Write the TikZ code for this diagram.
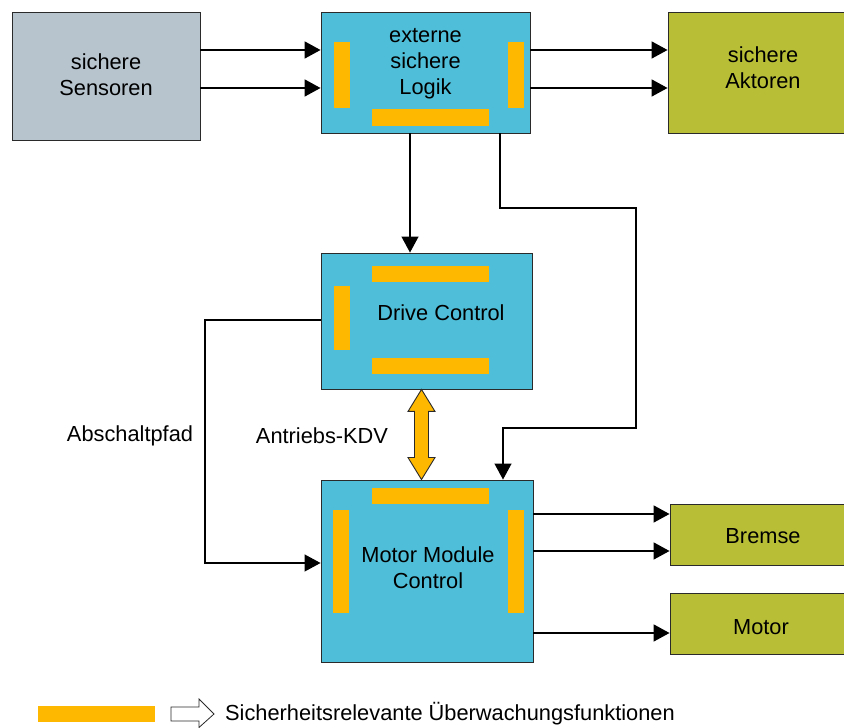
\documentclass[tikz,border=0pt]{standalone}
\usepackage{fontspec}
\setmainfont{Liberation Sans}
\usetikzlibrary{arrows.meta,calc}
\definecolor{unitcyan}{HTML}{4FBED8}
\definecolor{sensgray}{HTML}{B7C4CE}
\definecolor{actolive}{HTML}{B8BF37}
\definecolor{monorange}{HTML}{FFB800}
\definecolor{edgegray}{HTML}{2A2A2A}
\begin{document}
\begin{tikzpicture}[x=1pt,y=1pt,
  blk/.style={draw=edgegray, line width=0.9pt, inner sep=0pt, minimum width=#1},
  unit/.style={blk=#1, fill=unitcyan},
  sensor/.style={blk=#1, fill=sensgray},
  actor/.style={blk=#1, fill=actolive},
  txt/.style={inner sep=0pt, align=center, font=\fontsize{21.8}{26}\selectfont},
  bar/.style={fill=monorange},
  sig/.style={line width=1.7pt, -{Triangle[length=16pt,width=17pt]}},
  link/.style={line width=1.2pt, -{Triangle[length=16pt,width=17pt]}},
  kdv/.style={draw=edgegray, line width=0.9pt, fill=monorange, line join=miter}
]
\clip (0,0) rectangle (844,728);
\fill[white] (0,0) rectangle (844,728);

% blocks
\node[sensor=188pt, minimum height=128pt] (sens) at (106,652) {};
\node[unit=209pt, minimum height=121pt] (logik) at (425.5,655.5) {};
\node[actor=190pt, minimum height=121pt] (akt) at (763,655.5) {};
\node[unit=211pt, minimum height=136pt] (drive) at (426.5,407) {};
\node[unit=212pt, minimum height=182pt] (mmc) at (427,157) {};
\node[actor=186pt, minimum height=61pt] (brake) at (763,193.5) {};
\node[actor=186pt, minimum height=61pt] (motor) at (763,104.5) {};

% monitoring bars
\fill[bar] (334,686) rectangle (350,620);
\fill[bar] (508,686) rectangle (524,620);
\fill[bar] (372,619) rectangle (489,602);
\fill[bar] (372,462) rectangle (489,446);
\fill[bar] (334,442) rectangle (350,378);
\fill[bar] (372,370) rectangle (489,354);
\fill[bar] (372,240) rectangle (489,224);
\fill[bar] (333,218) rectangle (349,115);
\fill[bar] (508,218) rectangle (524,115);

% block labels
\node[txt] (senstxt) at (106,653) {sichere\\Sensoren};
\node[txt] (logiktxt) at (425.5,664) {externe\\sichere\\Logik};
\node[txt] (akttxt) at (763,660) {sichere\\Aktoren};
\node[txt] (drivetxt) at (441,415) {Drive Control};
\node[txt] (mmctxt) at (428,160) {Motor Module\\Control};
\node[txt] (braketxt) at (763,192) {Bremse};
\node[txt] (motortxt) at (761,101) {Motor};
\node[txt] (offlbl) at (130,292) {Abschaltpfad};
\node[txt] (kdvlbl) at (322,292) {Antriebs-KDV};

% signal arrows
\draw[sig] (sens.east |- 0,678) -- (logik.west |- 0,678);
\draw[sig] (sens.east |- 0,640) -- (logik.west |- 0,640);
\draw[sig] (logik.east |- 0,678) -- (akt.west |- 0,678);
\draw[sig] (logik.east |- 0,640) -- (akt.west |- 0,640);
\draw[sig] (mmc.east |- 0,214) -- (brake.west |- 0,214);
\draw[sig] (mmc.east |- 0,177) -- (brake.west |- 0,177);
\draw[sig] (mmc.east |- 0,95) -- (motor.west |- 0,95);

% control paths
\draw[link] (logik.south -| 410,0) -- (drive.north -| 410,0);
\coordinate (turn) at (636,520);
\draw[link] (logik.south -| 500,0) |- (turn) |- (503,300) -- (mmc.north -| 503,0);
\coordinate (offturn) at (205,408);
\draw[link] (drive.west |- offturn) -- (offturn) |- (mmc.west |- 0,165);

% drive communication (double arrow)
\coordinate (kt) at (drive.south -| 421.5,0);
\coordinate (kb) at (mmc.north -| 421.5,0);
\draw[kdv] (kt) -- ++(13.5,-22) -- ++(-6.5,0) -- ($(kb)+(7,22)$) -- ++(6.5,0)
  -- (kb) -- ++(-13.5,22) -- ++(6.5,0) -- ($(kt)+(-7,-22)$) -- ++(-6.5,0) -- cycle;

% legend
\fill[bar] (38,22) rectangle (155,6);
\draw[draw=edgegray, line width=0.8pt, fill=white, line join=miter]
  (171,21) -- (199,21) -- (199,29) -- (214,14) -- (199,0.5) -- (199,7) -- (171,7) -- cycle;
\node[txt, anchor=west] (legtxt) at (225,14) {Sicherheitsrelevante Überwachungsfunktionen};
\end{tikzpicture}
\end{document}
